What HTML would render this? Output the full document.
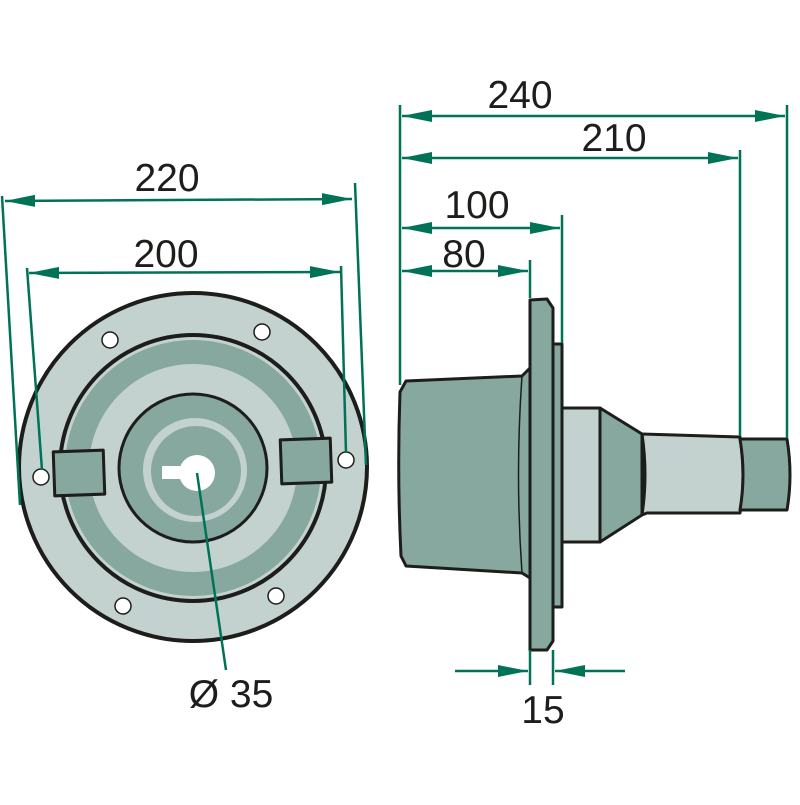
<!DOCTYPE html>
<html><head><meta charset="utf-8"><style>html,body{margin:0;padding:0;background:#fff}</style></head><body>
<svg width="800" height="800" viewBox="0 0 800 800" xmlns="http://www.w3.org/2000/svg">
<defs>
<marker id="b" viewBox="0 0 30 12" refX="30" refY="6" markerWidth="30" markerHeight="12" orient="auto-start-reverse" markerUnits="userSpaceOnUse">
<path d="M0,0 L30,6 L0,12 z" fill="#007256"/></marker>
</defs>
<g stroke="#1d1d1b" stroke-width="3" stroke-linejoin="round">
<circle cx="193" cy="467" r="174" fill="#c3d2ce" stroke-width="4"/>
<circle cx="193" cy="468" r="133" fill="#c3d2ce" stroke-width="4"/>
<circle cx="193" cy="468" r="128" fill="#87a89e" stroke="none"/>
<circle cx="193" cy="468" r="104" fill="#c3d2ce" stroke="none"/>
<circle cx="193" cy="468" r="74" fill="#87a89e"/>
<circle cx="195" cy="470" r="52" fill="#c3d2ce" stroke="none"/>
<circle cx="196" cy="471" r="45" fill="#87a89e" stroke="none"/>
<circle cx="197" cy="473" r="18" fill="#fff" stroke="none"/>
<rect x="162" y="466" width="18" height="13" fill="#fff" stroke="none"/>
<rect x="54" y="451" width="50" height="44" fill="#87a89e" transform="rotate(-2 79 473)"/>
<rect x="281" y="439" width="50" height="44" fill="#87a89e" transform="rotate(-2 306 461)"/>
<g fill="#fff" stroke-width="1.5">
<circle cx="41" cy="477" r="8"/><circle cx="346" cy="460" r="8"/>
<circle cx="110" cy="340" r="8"/><circle cx="262" cy="332" r="8"/>
<circle cx="123" cy="606" r="8"/><circle cx="276" cy="596" r="8"/>
</g>
<path d="M400,392 L406,381 L522,376 L530,368 L530,578 L522,573 L406,566 L401,556 Q397,475 400,392 Z" fill="#87a89e"/>
<path d="M522,376 Q515,475 522,573" fill="none" stroke-width="1.5"/>
<rect x="562" y="408" width="38" height="134" fill="#c3d2ce"/>
<path d="M600,408 L642,434 L642,515 L600,542 Z" fill="#87a89e"/>
<path d="M642,434 L740,437 Q746,475 740,513 L647,513 L642,515 Q648,475 642,434 Z" fill="#c3d2ce"/>
<path d="M740,439 L787,439 Q793,475 787,510 L740,510 Q746,475 740,439 Z" fill="#87a89e"/>
<rect x="553" y="344" width="9" height="263" fill="#87a89e"/>
<path d="M530,300 L547,299 L553,308 L553,641 L547,650 L530,650 Z" fill="#87a89e"/>
</g>
<g stroke="#007256" stroke-width="2.5" fill="none">
<line x1="2" y1="196" x2="20" y2="505"/>
<line x1="355" y1="183" x2="366" y2="465"/>
<line x1="27" y1="268" x2="42" y2="470"/>
<line x1="341" y1="266" x2="346" y2="453"/>
<line x1="5" y1="201" x2="352" y2="199" marker-start="url(#b)" marker-end="url(#b)"/>
<line x1="29" y1="273" x2="340" y2="272" marker-start="url(#b)" marker-end="url(#b)"/>
<line x1="197" y1="473" x2="226" y2="670"/>
<line x1="400" y1="105" x2="400" y2="385"/>
<line x1="787" y1="105" x2="787" y2="438"/>
<line x1="740" y1="150" x2="740" y2="436"/>
<line x1="562" y1="215" x2="562" y2="343"/>
<line x1="530" y1="260" x2="530" y2="298"/>
<line x1="402" y1="116" x2="785" y2="116" marker-start="url(#b)" marker-end="url(#b)"/>
<line x1="402" y1="158" x2="738" y2="158" marker-start="url(#b)" marker-end="url(#b)"/>
<line x1="402" y1="228" x2="560" y2="228" marker-start="url(#b)" marker-end="url(#b)"/>
<line x1="402" y1="271" x2="528" y2="271" marker-start="url(#b)" marker-end="url(#b)"/>
<line x1="530" y1="650" x2="530" y2="685"/>
<line x1="553" y1="650" x2="553" y2="685"/>
<line x1="455" y1="671" x2="528" y2="671" marker-end="url(#b)"/>
<line x1="625" y1="671" x2="555" y2="671" marker-end="url(#b)"/>
</g>
<g font-family="Liberation Sans, sans-serif" font-size="39" fill="#1d1d1b" text-anchor="middle">
<text x="167" y="191">220</text>
<text x="166" y="267">200</text>
<text x="231" y="707">Ø 35</text>
<text x="520" y="108">240</text>
<text x="614" y="151">210</text>
<text x="477" y="218">100</text>
<text x="464" y="267">80</text>
<text x="543" y="723">15</text>
</g>
</svg>
</body></html>
